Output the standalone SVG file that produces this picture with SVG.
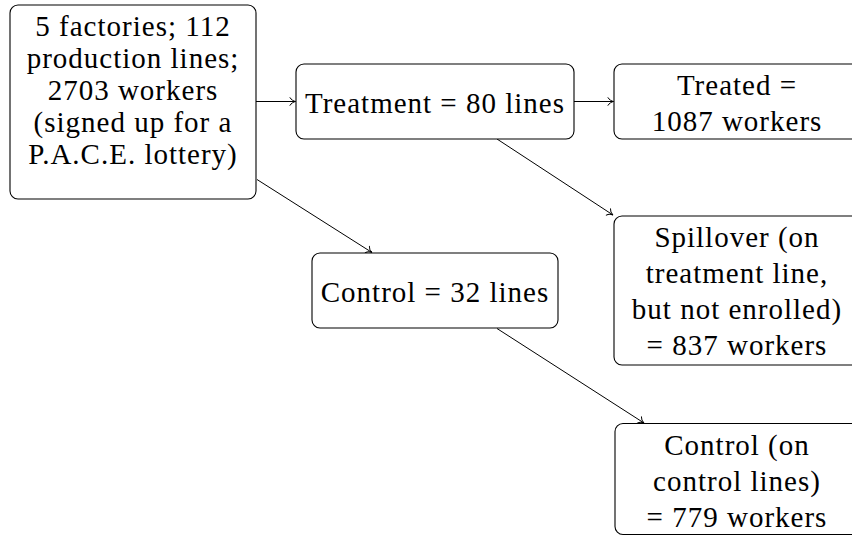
<svg xmlns="http://www.w3.org/2000/svg" width="852" height="536" viewBox="0 0 852 536">
<style>
  .box { fill: #ffffff; stroke: #000000; stroke-width: 1.1; }
  .lbl { font-family: "Liberation Serif", "DejaVu Serif", serif; font-size: 29px; letter-spacing: 1px; fill: #000000; text-anchor: middle; }
  .edge { fill: none; stroke: #000000; stroke-width: 1; marker-end: url(#tip); }
</style>
<defs>
  <marker id="tip" viewBox="-7 -5 8 10" refX="0" refY="0" markerWidth="8" markerHeight="10" markerUnits="userSpaceOnUse" orient="auto">
    <path d="M-5.5,-3.8 C-4.4,-1.7 -1.7,-0.35 0,0 C-1.7,0.35 -4.4,1.7 -5.5,3.8" fill="none" stroke="#000000" stroke-width="1" stroke-linecap="round"/>
  </marker>
</defs>
<rect width="852" height="536" fill="#ffffff"/>
<g id="connectors">
  <line class="edge" x1="256" y1="101.5" x2="295.5" y2="101.5"/>
  <line class="edge" x1="574" y1="101.5" x2="613.5" y2="101.5"/>
  <line class="edge" x1="257" y1="179.5" x2="372" y2="252.5"/>
  <line class="edge" x1="497" y1="139" x2="613" y2="215"/>
  <line class="edge" x1="497" y1="328.5" x2="644" y2="423"/>
</g>
<g id="n-all">
  <rect class="box" x="10" y="5" width="246" height="194" rx="8"/>
  <text class="lbl" x="133" y="36">5 factories; 112</text>
  <text class="lbl" x="133" y="68">production lines;</text>
  <text class="lbl" x="133" y="100">2703 workers</text>
  <text class="lbl" x="133" y="132">(signed up for a</text>
  <text class="lbl" x="133" y="163.5">P.A.C.E. lottery)</text>
</g>
<g id="n-treatment">
  <rect class="box" x="296" y="64" width="278" height="75" rx="8"/>
  <text class="lbl" x="435" y="113">Treatment = 80 lines</text>
</g>
<g id="n-treated">
  <rect class="box" x="614" y="64" width="246" height="75" rx="8"/>
  <text class="lbl" x="737" y="95">Treated =</text>
  <text class="lbl" x="737" y="130.5">1087 workers</text>
</g>
<g id="n-spillover">
  <rect class="box" x="614" y="216" width="246" height="149" rx="8"/>
  <text class="lbl" x="737" y="247">Spillover (on</text>
  <text class="lbl" x="737" y="283">treatment line,</text>
  <text class="lbl" x="737" y="319">but not enrolled)</text>
  <text class="lbl" x="737" y="355">= 837 workers</text>
</g>
<g id="n-control">
  <rect class="box" x="312" y="253" width="246" height="75" rx="8"/>
  <text class="lbl" x="435" y="301.5">Control = 32 lines</text>
</g>
<g id="n-control-workers">
  <rect class="box" x="615" y="423.5" width="246" height="111" rx="8"/>
  <text class="lbl" x="737" y="454.5">Control (on</text>
  <text class="lbl" x="737" y="490.5">control lines)</text>
  <text class="lbl" x="737" y="526.5">= 779 workers</text>
</g>
</svg>
